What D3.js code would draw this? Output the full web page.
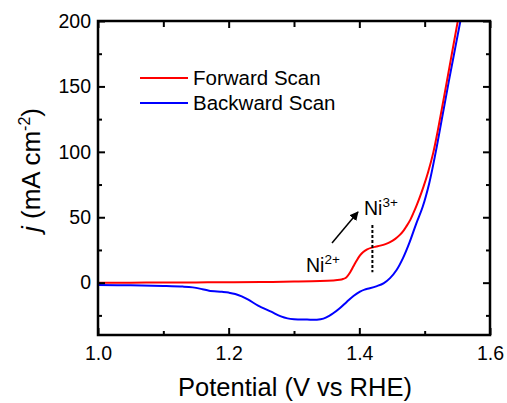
<!DOCTYPE html>
<html>
<head>
<meta charset="utf-8">
<script src="https://cdn.jsdelivr.net/npm/d3@7"></script>
<style>
  html, body { margin: 0; padding: 0; background: #fff; }
  svg { display: block; }
  text { font-family: "Liberation Sans", Arial, sans-serif; fill: #000; }
</style>
</head>
<body>
<svg id="chart" width="507" height="403"></svg>
<script>
// ---- data ----
const forwardV = [1.00, 1.05, 1.10, 1.15, 1.20, 1.25, 1.30, 1.34, 1.36, 1.37, 1.375, 1.38, 1.386, 1.391, 1.396, 1.401, 1.406, 1.412, 1.419, 1.426, 1.432, 1.440, 1.447, 1.455, 1.462, 1.468, 1.472, 1.478, 1.483, 1.488, 1.493, 1.498, 1.505, 1.513, 1.520, 1.530, 1.540, 1.550, 1.556];
const forwardJ = [0.0, 0.0, 0.1, 0.2, 0.3, 0.5, 0.8, 1.2, 1.7, 2.2, 2.8, 4.0, 8.0, 12.5, 17.0, 20.8, 23.5, 25.5, 26.8, 27.6, 28.3, 29.5, 31.0, 33.5, 36.5, 40.0, 43.0, 48.0, 53.5, 59.5, 66.0, 73.0, 84.0, 99.0, 116.0, 143.0, 170.5, 198.0, 215.0];

const backwardV = [1.00, 1.05, 1.10, 1.13, 1.145, 1.16, 1.17, 1.19, 1.20, 1.21, 1.22, 1.23, 1.245, 1.265, 1.28, 1.29, 1.30, 1.32, 1.335, 1.345, 1.355, 1.36, 1.37, 1.381, 1.391, 1.401, 1.408, 1.416, 1.427, 1.437, 1.447, 1.457, 1.467, 1.477, 1.487, 1.497, 1.507, 1.517, 1.527, 1.537, 1.547, 1.557, 1.562];
const backwardJ = [-1.8, -2.0, -2.5, -3.0, -3.6, -5.0, -6.1, -7.0, -7.6, -8.6, -10.5, -13.0, -17.5, -22.2, -25.8, -27.3, -27.9, -28.2, -28.3, -27.5, -25.0, -23.4, -19.5, -14.5, -10.2, -6.9, -5.3, -4.3, -2.6, -0.5, 3.5, 9.7, 19.0, 31.0, 45.0, 58.0, 76.0, 100.0, 127.0, 154.0, 180.0, 206.0, 219.0];

const xTicks = [1.0, 1.2, 1.4, 1.6];
const xMinor = [1.1, 1.3, 1.5];
const yTicks = [0, 50, 100, 150, 200];
const yMinor = [-25, 25, 75, 125, 175];

const seriesNames = ["Forward Scan", "Backward Scan"];
const seriesColors = ["#ff0000", "#0000ff"];

// annotation anchors (data coords)
const markerV = 1.42;
const markerJ = [44, 8];

// ---- layout ----
const svg = d3.select("#chart");
const L = 98, R = 490, T = 21, B = 335;
const x = d3.scaleLinear().domain([1.0, 1.6]).range([L, R]);
const y = d3.scaleLinear().domain([-40, 200]).range([B, T]);

const fmtX = d3.format(".1f");

// clip
svg.append("defs").append("clipPath").attr("id", "clip")
  .append("rect").attr("x", L).attr("y", T).attr("width", R - L).attr("height", B - T);

// curves
const line = d3.line().x(d => x(d[0])).y(d => y(d[1])).curve(d3.curveCatmullRom.alpha(0.5));
const fwd = forwardV.map((v, i) => [v, forwardJ[i]]);
const bwd = backwardV.map((v, i) => [v, backwardJ[i]]);
const g = svg.append("g").attr("clip-path", "url(#clip)");
g.append("path").datum(bwd).attr("d", line).attr("fill", "none").attr("stroke", seriesColors[1]).attr("stroke-width", 2);
g.append("path").datum(fwd).attr("d", line).attr("fill", "none").attr("stroke", seriesColors[0]).attr("stroke-width", 2);

// axes (ticks inward)
function axisGroup(axis, tx, ty) {
  const a = svg.append("g").attr("transform", `translate(${tx},${ty})`).call(axis);
  a.select(".domain").remove();
  a.selectAll(".tick line").attr("stroke", "#000").attr("stroke-width", 2);
  a.selectAll(".tick text").style("font-size", "19.5px").style("font-family", '"Liberation Sans", Arial, sans-serif');
  return a;
}
// bottom
axisGroup(d3.axisBottom(x).tickValues(xTicks).tickFormat(fmtX).tickSizeInner(-7).tickPadding(14), 0, B)
  .selectAll(".tick text").attr("dy", "0.71em").attr("y", 11);
axisGroup(d3.axisBottom(x).tickValues(xMinor).tickFormat("").tickSizeInner(-4), 0, B);
// top
axisGroup(d3.axisTop(x).tickValues(xTicks).tickFormat("").tickSizeInner(-7), 0, T);
axisGroup(d3.axisTop(x).tickValues(xMinor).tickFormat("").tickSizeInner(-6), 0, T);
// left
axisGroup(d3.axisLeft(y).tickValues(yTicks).tickFormat(d3.format("d")).tickSizeInner(-7).tickPadding(15), L, 0)
  .selectAll(".tick text").attr("x", -7);
axisGroup(d3.axisLeft(y).tickValues(yMinor).tickFormat("").tickSizeInner(-4), L, 0);
// right
axisGroup(d3.axisRight(y).tickValues(yTicks).tickFormat("").tickSizeInner(-7), R, 0);
axisGroup(d3.axisRight(y).tickValues(yMinor).tickFormat("").tickSizeInner(-4), R, 0);

// frame
svg.append("rect").attr("x", L).attr("y", T).attr("width", R - L).attr("height", B - T)
  .attr("fill", "none").attr("stroke", "#000").attr("stroke-width", 2.5);

// axis titles
svg.append("text").attr("x", (L + R) / 2 + 1).attr("y", 396).attr("text-anchor", "middle")
  .style("font-size", "25.5px").text("Potential (V vs RHE)");

const yt = svg.append("text").attr("transform", "translate(40,170) rotate(-90)").attr("text-anchor", "middle")
  .style("font-size", "26px");
yt.append("tspan").style("font-style", "italic").text("j");
yt.append("tspan").text(" (mA cm");
yt.append("tspan").attr("dy", -10).style("font-size", "16px").text("-2");
yt.append("tspan").attr("dy", 10).text(")");

// legend
const legY = [78, 103];
seriesNames.forEach((name, i) => {
  svg.append("line").attr("x1", 140).attr("x2", 188).attr("y1", legY[i]).attr("y2", legY[i])
    .attr("stroke", seriesColors[i]).attr("stroke-width", 2);
  svg.append("text").attr("x", 193).attr("y", legY[i] + 7).style("font-size", "20.5px").text(name);
});

// annotations
svg.append("defs").append("marker").attr("id", "arrow").attr("viewBox", "0 0 10 10")
  .attr("refX", 9).attr("refY", 5).attr("markerWidth", 9).attr("markerHeight", 9)
  .attr("markerUnits", "userSpaceOnUse").attr("orient", "auto")
  .append("path").attr("d", "M0,0 L10,5 L0,10 Z").attr("fill", "#000");
svg.append("line").attr("x1", 332).attr("y1", 243).attr("x2", 358).attr("y2", 212)
  .attr("stroke", "#000").attr("stroke-width", 1.5).attr("marker-end", "url(#arrow)");

svg.append("line").attr("x1", x(markerV)).attr("x2", x(markerV)).attr("y1", y(markerJ[0])).attr("y2", y(markerJ[1]))
  .attr("stroke", "#000").attr("stroke-width", 2).attr("stroke-dasharray", "3,2");

function niLabel(tx, ty, sup) {
  const t = svg.append("text").attr("x", tx).attr("y", ty).style("font-size", "19.5px");
  t.append("tspan").text("Ni");
  t.append("tspan").attr("dy", -8).style("font-size", "13.5px").text(sup);
}
niLabel(306, 272, "2+");
niLabel(364, 215, "3+");
</script>
</body>
</html>
